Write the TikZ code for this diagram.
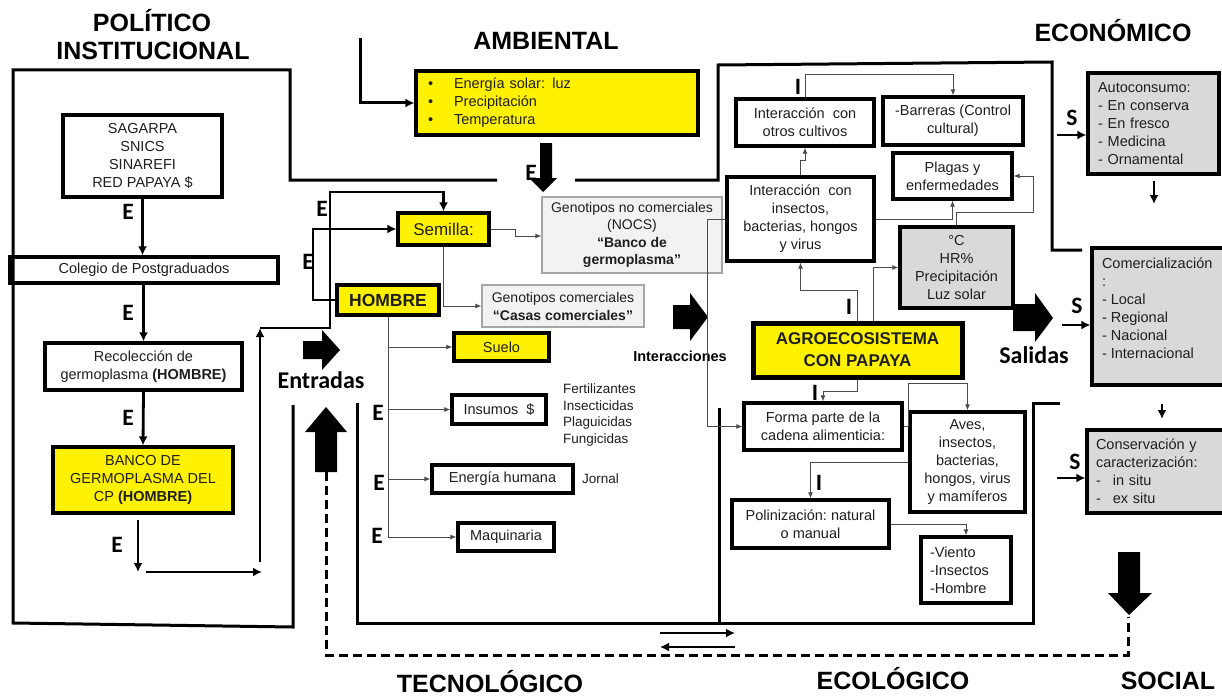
\documentclass[tikz,border=0pt]{standalone}
\usepackage{fontspec}
\setmainfont{Liberation Sans}
\newfontfamily\calibri{Carlito}
\usetikzlibrary{arrows.meta}
\begin{document}
\begin{tikzpicture}[x=1pt,y=-1pt,
 txt/.style={font=\fontsize{14.5}{18}\selectfont, text=black!88, align=center, inner sep=0pt},
 sz/.style 2 args={minimum width=#1pt, minimum height=#2pt},
 bx/.style={txt, draw=black, line width=3.2pt},
 ybx/.style={bx, fill=yellow},
 gbx/.style={bx, fill=black!15},
 lbx/.style={txt, draw=black!35, line width=1.3pt, fill=black!5},
 lab/.style={font=\calibri\bfseries\fontsize{23.5}{24}\selectfont, inner sep=0pt},
 head/.style={font=\bfseries\fontsize{25}{28}\selectfont, anchor=base, inner sep=0pt},
 region/.style={line width=3pt},
 conn/.style={line width=1pt, draw=black!70, -{Latex[length=6pt,width=5pt]}},
 bigarrow/.style={line width=2.8pt, -{Latex[length=9pt,width=9pt]}},
 blk/.style={fill=black},
]
\fill[white] (0,0) rectangle (1222,698);
\useasboundingbox (0,0) rectangle (1222,698);

% headings
\node[head] (hpol) at (152,32) {POLÍTICO};
\node[head] (hins) at (153,60) {INSTITUCIONAL};
\node[head] (hamb) at (546,50) {AMBIENTAL};
\node[head] (heco) at (1113,42) {ECONÓMICO};
\node[head] (htec) at (490,692) {TECNOLÓGICO};
\node[head] (hecol) at (893,689) {ECOLÓGICO};
\node[head] (hsoc) at (1168,689) {SOCIAL};

% region frames
\draw[region] (293,405) -- (293,627) -- (13,623) -- (13,70) -- (290,70) -- (290,180) -- (497,180);
\draw[region] (575,180) -- (718,180) -- (718,65) -- (1052,62) -- (1052,250) -- (1082,250);
\draw[region] (357,403) -- (357,623) -- (1033,623) -- (1033,403) -- (1060,403);
\draw[region] (719,408) -- (719,623);

% left column
\node[bx, sz={159}{82}] (sagarpa) at (142.5,156) {SAGARPA\\SNICS\\SINAREFI\\RED PAPAYA \$};
\node[bx, sz={268}{26}] (colegio) at (144,270) {Colegio de Postgraduados};
\node[bx, sz={197}{47}] (recol) at (143.5,366.5) {Recolección de\\germoplasma \textbf{(HOMBRE)}};
\node[ybx, sz={180}{66}] (banco) at (143,480) {BANCO DE\\GERMOPLASMA DEL\\CP \textbf{(HOMBRE)}};

\draw[bigarrow] (sagarpa.south) -- (sagarpa.south |- colegio.north);
\draw[bigarrow] (recol.north |- colegio.south) -- (recol.north);
\draw[bigarrow] (recol.south) -- (banco.north);
\coordinate (b1) at (138,520);
\coordinate (b2) at (138,572);
\coordinate (b3) at (146,572);
\coordinate (b4) at (262,572);
\coordinate (b5) at (260,562);
\coordinate (b6) at (260,328);
\draw[bigarrow] (b1) -- (b2);
\draw[bigarrow] (b3) -- (b4);
\draw[bigarrow] (b5) -- (b6);

\node[lab] (e1) at (128,212) {E};
\node[lab] (e2) at (128,313) {E};
\node[lab] (e3) at (128,418) {E};
\node[lab] (e4) at (117,545) {E};

% ambiental
\node[ybx, sz={282}{64}, align=left, text width=258pt] (amb) at (557,103)
 {\makebox[26pt][l]{•}Energía solar: luz\\\makebox[26pt][l]{•}Precipitación\\\makebox[26pt][l]{•}Temperatura};
\coordinate (a0) at (360,38);
\draw[line width=3pt, -{Latex[length=9pt,width=9pt]}] (a0) |- (amb.west);
\fill[blk] (540,143) -- (552,143) -- (552,178) -- (557,178) -- (543,192) -- (529,178) -- (540,178) -- cycle;
\node[lab] (e5) at (531,173) {E};

% semilla / hombre
\node[ybx, sz={91}{32}, font=\fontsize{17}{20}\selectfont] (semilla) at (443.5,229) {Semilla:};
\node[ybx, sz={102}{30}, line width=4pt, font=\bfseries\fontsize{17.5}{20}\selectfont] (hombre) at (388,300) {HOMBRE};
\node[lbx, sz={180}{76}, font=\fontsize{14}{17.5}\selectfont] (nocs) at (632,235) {Genotipos no comerciales\\(NOCS)\\\textbf{“Banco de}\\\textbf{germoplasma”}};
\node[lbx, sz={162}{42}, font=\fontsize{14}{18}\selectfont] (casas) at (563,306) {Genotipos comerciales\\\textbf{“Casas comerciales”}};

\draw[bigarrow] (b6) -- (330,328) -- (330,192) -- (semilla.north |- 0,192) -- (semilla.north);
\draw[bigarrow] (hombre.west) -- (313,300) |- (semilla.west);
\node[lab] (e6) at (322,209) {E};
\node[lab] (e7) at (308,262) {E};

\draw[conn] (semilla.east) -- (515,229) -- (515,236) -- (nocs.west |- 0,236);
\draw[conn] (semilla.south) |- (casas.west);

% hombre tree
\node[ybx, sz={95}{28}] (suelo) at (501.5,347) {Suelo};
\node[bx, sz={94}{29}] (insumos) at (499,409.5) {Insumos\ \ \$};
\node[bx, sz={141}{28}] (energia) at (502.5,479) {Energía humana};
\node[bx, sz={96}{28}] (maq) at (506,537) {Maquinaria};
\node[txt, anchor=west, align=left, font=\fontsize{13.5}{16.7}\selectfont] (lista) at (563,415) {Fertilizantes\\Insecticidas\\Plaguicidas\\Fungicidas};
\node[txt, anchor=west, font=\fontsize{13.5}{16}\selectfont] (jornal) at (582,479) {Jornal};
\draw[conn] (hombre.south) |- (maq.west);
\draw[conn] (hombre.south |- suelo.west) -- (suelo.west);
\draw[conn] (hombre.south |- insumos.west) -- (insumos.west);
\draw[conn] (hombre.south |- energia.west) -- (energia.west);
\node[lab] (e8) at (378,413) {E};
\node[lab] (e9) at (379,483) {E};
\node[lab] (e10) at (377,536) {E};

% block arrows and labels
\fill[blk] (303,341) -- (322,341) -- (322,330) -- (340,350) -- (322,370) -- (322,359) -- (303,359) -- cycle;
\node[font=\calibri\bfseries\fontsize{24}{26}\selectfont, inner sep=0pt] (entradas) at (321,380) {Entradas};
\fill[blk] (673,305) -- (690,305) -- (690,293) -- (708,317) -- (690,341) -- (690,329) -- (673,329) -- cycle;
\node[font=\bfseries\fontsize{14.5}{16}\selectfont, inner sep=0pt] (interac) at (680,356) {Interacciones};
\fill[blk] (1013,304) -- (1035,304) -- (1035,293) -- (1053,318) -- (1035,342) -- (1035,331) -- (1013,331) -- cycle;
\node[font=\calibri\bfseries\fontsize{24}{26}\selectfont, inner sep=0pt] (salidas) at (1034,355) {Salidas};
\fill[blk] (315,472) -- (315,432) -- (305,432) -- (326,407) -- (347,432) -- (337,432) -- (337,472) -- cycle;
\fill[blk] (1118,552) -- (1140,552) -- (1140,593) -- (1152,593) -- (1129,615) -- (1108,593) -- (1118,593) -- cycle;
\coordinate (d0) at (326,472);
\coordinate (d1) at (1128,617);
\draw[line width=3pt, dash pattern=on 9pt off 5pt] (d0) -- (326,655) -- (1128,655) -- (d1);

% double arrow
\coordinate (w1) at (660,633);
\coordinate (w2) at (735,633);
\coordinate (w3) at (735,647);
\coordinate (w4) at (660,647);
\draw[bigarrow] (w1) -- (w2);
\draw[bigarrow] (w3) -- (w4);

% ecological boxes
\node[bx, sz={138}{47}] (otros) at (805,122.5) {Interacción\ \ con\\otros cultivos};
\node[bx, sz={140}{48}] (barreras) at (953,121) {-Barreras (Control\\cultural)};
\node[bx, sz={119}{46}] (plagas) at (952.5,176) {Plagas y\\enfermedades};
\node[bx, sz={147}{84}] (insectos) at (800.5,219) {Interacción\ \ con\\insectos,\\bacterias, hongos\\y virus};
\node[gbx, sz={113}{81}] (clima) at (956.5,267.5) {°C\\HR\%\\Precipitación\\Luz solar};
\node[ybx, sz={209}{54}, line width=5pt, font=\bfseries\fontsize{17}{22}\selectfont] (agro) at (857.5,350) {AGROECOSISTEMA\\CON PAPAYA};
\node[bx, sz={158}{47}] (forma) at (823,426.5) {Forma parte de la\\cadena alimenticia:};
\node[bx, sz={115}{100}] (aves) at (967.5,462) {Aves,\\insectos,\\bacterias,\\hongos, virus\\y mamíferos};
\node[bx, sz={157}{48}] (polin) at (810.5,524) {Polinización:\ natural\\o manual};
\node[bx, sz={90}{66}, align=left, text width=72pt] (viento) at (966,570) {-Viento\\-Insectos\\-Hombre};

\draw[conn] (insectos.north) -- ++(0,-15) -| (otros.south);
\draw[conn] (otros.north) -- ++(0,-23) -| (barreras.north);
\draw[conn] (insectos.east) -| (plagas.south);
\draw[conn] (clima.north) |- (1033,212) |- (plagas.east);
\draw[conn] (agro.north) -- ++(0,-30) -| (insectos.south);
\draw[conn] (agro.north -| 873,0) |- (clima.west);
\draw[conn] (agro.south) -- ++(0,12) -| (forma.north);
\draw[conn] (insectos.west) -- (707,219) |- (forma.west);
\draw[conn] (forma.east) -- ++(5,0) |- (aves.north |- 0,383) -- (aves.north);
\draw[conn] (aves.west) -| (polin.north);
\draw[conn] (polin.east) -| (viento.north);

\node[lab] (i1) at (798,87) {I};
\node[lab] (i2) at (849,307) {I};
\node[lab] (i3) at (815,393) {I};
\node[lab] (i4) at (819,483) {I};

% economic / social
\node[gbx, sz={131}{101}, align=left, text width=111pt] (auto) at (1153.5,123.5) {Autoconsumo:\\- En conserva\\- En fresco\\- Medicina\\- Ornamental};
\node[gbx, sz={134}{137}] (comerc) at (1159,316.5) {\begin{minipage}[c][117pt][t]{114pt}Comercialización\\:\\- Local\\- Regional\\- Nacional\\- Internacional\end{minipage}};
\node[gbx, sz={139}{83}, align=left, text width=121pt] (conserv) at (1156.5,471.5) {Conservación y\\caracterización:\\-\hspace{12pt}in situ\\-\hspace{12pt}ex situ};

\coordinate (s1) at (1057,135);
\coordinate (s2) at (1062,325);
\coordinate (s3) at (1057,478);
\draw[bigarrow] (s1) -- (auto.west |- s1);
\draw[bigarrow] (s2) -- (comerc.west |- s2);
\draw[bigarrow] (s3) -- (conserv.west |- s3);
\node[lab] (sl1) at (1072,118) {S};
\node[lab] (sl2) at (1077,306) {S};
\node[lab] (sl3) at (1075,462) {S};
\coordinate (v1) at (1154,181);
\coordinate (v2) at (1154,204);
\coordinate (v3) at (1162,404);
\coordinate (v4) at (1162,419);
\draw[bigarrow] (v1) -- (v2);
\draw[bigarrow] (v3) -- (v4);
\end{tikzpicture}
\end{document}
